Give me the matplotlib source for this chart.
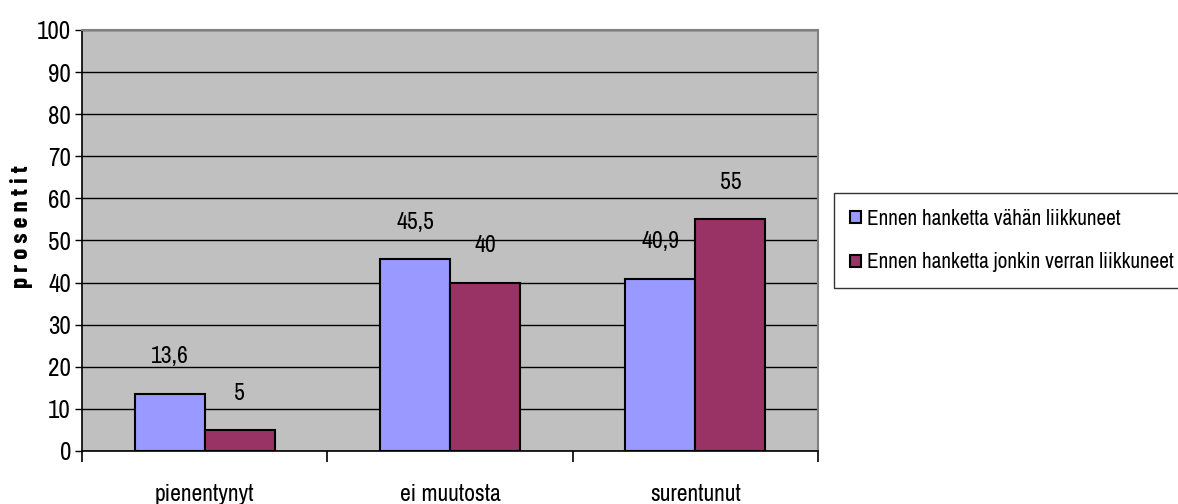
import matplotlib

matplotlib.use("Agg")
import matplotlib.pyplot as plt
import numpy as np

plt.rcParams["font.family"] = ["Archivo Narrow", "Liberation Sans", "DejaVu Sans"]

categories = ["pienentynyt", "ei muutosta", "surentunut"]
series_names = [
    "Ennen hanketta vähän liikkuneet",
    "Ennen hanketta jonkin verran liikkuneet",
]
low_active = [13.6, 45.5, 40.9]
some_active = [5, 40, 55]
value_labels = [["13,6", "45,5", "40,9"], ["5", "40", "55"]]
colors = ["#9999FF", "#993366"]

fig = plt.figure(figsize=(11.78, 5.04), dpi=100)
ax = fig.add_axes([0.0696, 0.1052, 0.6248, 0.8353])
ax.set_facecolor("#C0C0C0")

x = np.arange(len(categories))
w = 1 / 3.5
for i, (vals, labs) in enumerate(zip([low_active, some_active], value_labels)):
    pos = x + (i - 0.5) * w
    ax.bar(pos, vals, width=w, color=colors[i], edgecolor="black",
           linewidth=1.5, label=series_names[i], zorder=3)
    for p, v, t in zip(pos, vals, labs):
        ax.annotate(t, (p, v), xytext=(0, 19), textcoords="offset points",
                    ha="center", va="bottom", fontsize=17)

ax.set_ylim(0, 100)
ax.set_xlim(-0.5, len(categories) - 0.5)
ax.set_yticks(range(0, 101, 10))
ax.yaxis.grid(True, color="black", linewidth=1)
ax.set_axisbelow(True)
ax.tick_params(axis="y", labelsize=18, length=5, width=1, pad=3)

ax.set_xticks(x)
ax.set_xticklabels(categories, fontsize=17)
ax.tick_params(axis="x", length=0, pad=24)
ax.set_xticks(np.arange(-0.5, len(categories)), minor=True)
ax.tick_params(axis="x", which="minor", length=8, width=1.2)

for s in ["left", "bottom"]:
    ax.spines[s].set_color("black")
    ax.spines[s].set_linewidth(1.2)
for s in ["top", "right"]:
    ax.spines[s].set_color("#808080")
    ax.spines[s].set_linewidth(1.5)

ax.set_ylabel("p r o s e n t i t", fontsize=18, fontweight="bold",
              family=["Barlow Condensed", "Liberation Sans", "DejaVu Sans"])
ax.yaxis.set_label_coords(-0.066, 0.534)

leg = ax.legend(loc="center left", bbox_to_anchor=(1.022, 0.5), fontsize=15.3,
                frameon=True, fancybox=False, edgecolor="black",
                handlelength=0.5, handleheight=0.5, handletextpad=0.3,
                borderpad=0.75, labelspacing=1.1, borderaxespad=0)
leg.get_frame().set_linewidth(1)

fig.savefig("out.png", dpi=100)
